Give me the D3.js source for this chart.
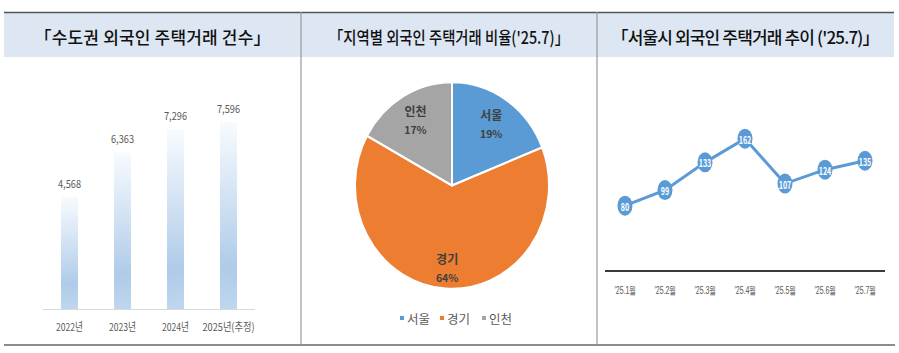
<!DOCTYPE html>
<html><head><meta charset="utf-8">
<script src="https://cdn.jsdelivr.net/npm/d3@7"></script>
<style>
html,body{margin:0;padding:0;background:#fff;}
svg{display:block;font-family:"Noto Sans CJK KR","Noto Sans",sans-serif;}
</style></head>
<body><svg id="c" width="899" height="353"></svg>
<script>
// ---- data ----
const titles = ["「수도권 외국인 주택거래 건수」", "「지역별 외국인 주택거래 비율('25.7)」", "「서울시 외국인 주택거래 추이 ('25.7)」"];
const barYears = ["2022년", "2023년", "2024년", "2025년(추정)"];
const barValues = [4568, 6363, 7296, 7596];
const pieRegions = ["서울", "경기", "인천"];
const pieShares = [19, 64, 17];
const pieColors = ["#5b9bd5", "#ed7d31", "#a5a5a5"];
const lineMonths = ["'25.1월", "'25.2월", "'25.3월", "'25.4월", "'25.5월", "'25.6월", "'25.7월"];
const lineValues = [80, 99, 133, 162, 107, 124, 135];

const svg = d3.select("#c");
const defs = svg.append("defs");
const grad = defs.append("linearGradient").attr("id","bg").attr("x1",0).attr("y1",0).attr("x2",0).attr("y2",1);
grad.append("stop").attr("offset","0%").attr("stop-color","#f8fbfe");
grad.append("stop").attr("offset","78%").attr("stop-color","#afcbe9");
grad.append("stop").attr("offset","100%").attr("stop-color","#bfd6ee");

// frame
const panels = [[4,301],[301,597],[597,894]];
const titleW = [236, 240, 268];
const titleAdj = ["spacing", "spacingAndGlyphs", "spacing"];
panels.forEach((p,i)=>{
  svg.append("rect").attr("x",p[0]).attr("y",13).attr("width",p[1]-p[0]).attr("height",44).attr("fill","#dde7f4");
  svg.append("text").attr("x",(p[0]+p[1])/2).attr("y",36).attr("text-anchor","middle")
    .attr("dominant-baseline","central").attr("font-size",17).attr("font-weight",500).attr("fill","#111")
    .attr("textLength",titleW[i]).attr("lengthAdjust",titleAdj[i])
    .text(titles[i]);
});
svg.append("line").attr("x1",4).attr("x2",894).attr("y1",12.5).attr("y2",12.5).attr("stroke","#555").attr("stroke-width",1.5);
svg.append("line").attr("x1",4).attr("x2",895).attr("y1",345).attr("y2",345).attr("stroke","#8c8c8c").attr("stroke-width",2);
[301,597].forEach(x=>svg.append("line").attr("x1",x).attr("x2",x).attr("y1",12).attr("y2",345).attr("stroke","#9a9a9a").attr("stroke-width",1.2));

// ---- bar chart ----
const bx = d3.scaleBand().domain(barYears).range([43,255]).paddingInner(0.68).paddingOuter(0.34);
const by = d3.scaleLinear().domain([0,8000]).range([309,309-197]);
svg.append("line").attr("x1",43).attr("x2",255).attr("y1",309.5).attr("y2",309.5).attr("stroke","#d9d9d9");
svg.selectAll(".bar").data(barValues).join("rect")
  .attr("x",(d,i)=>bx(barYears[i])).attr("width",bx.bandwidth())
  .attr("y",d=>by(d)).attr("height",d=>by(0)-by(d)).attr("fill","url(#bg)");
svg.selectAll(".bl").data(barValues).join("text")
  .attr("x",(d,i)=>bx(barYears[i])+bx.bandwidth()/2).attr("y",d=>by(d)-9)
  .attr("text-anchor","middle").attr("font-size",11).attr("fill","#595959")
  .attr("textLength",23).attr("lengthAdjust","spacingAndGlyphs")
  .text(d=>d3.format(",")(d));
svg.append("g").attr("transform","translate(0,309)")
  .call(d3.axisBottom(bx).tickSize(0).tickPadding(14))
  .call(g=>g.select(".domain").remove())
  .call(g=>g.selectAll("text").attr("font-size",11).attr("fill","#595959").attr("font-family","'Noto Sans CJK KR',sans-serif")
     .each(function(d){ d3.select(this).attr("textLength", d.length>6 ? 52 : 27).attr("lengthAdjust","spacingAndGlyphs"); }));

// ---- pie ----
const pie = d3.pie().sort(null).value(d=>d)(pieShares);
const R = 97;
const arc = d3.arc().innerRadius(0).outerRadius(R);
const pg = svg.append("g").attr("transform","translate(452,185.5) scale(1,1.065)");
pg.selectAll("path").data(pie).join("path").attr("d",arc)
  .attr("fill",(d,i)=>pieColors[i]).attr("stroke","#fff").attr("stroke-width",2);
const labR = [0.72, 0.8, 0.74];
const lab = svg.append("g").attr("transform","translate(452,185.5)");
pie.forEach((d,i)=>{
  const c = d3.arc().innerRadius(R*labR[i]).outerRadius(R*labR[i]).centroid(d);
  const t = lab.append("text").attr("x",c[0]).attr("y",c[1]*1.065).attr("text-anchor","middle")
    .attr("font-size",12).attr("font-weight",700).attr("fill","#404040");
  t.append("tspan").attr("x",c[0]).attr("dy",-4).text(pieRegions[i]);
  t.append("tspan").attr("x",c[0]).attr("dy",18).attr("font-size",10.5).text(pieShares[i]+"%");
});
const lg = svg.append("g");
const lx = [400,440,482];
pieRegions.forEach((r,i)=>{
  lg.append("rect").attr("x",lx[i]).attr("y",316).attr("width",4).attr("height",4).attr("fill",pieColors[i]);
  lg.append("text").attr("x",lx[i]+7).attr("y",318).attr("dominant-baseline","central")
    .attr("font-size",12.5).attr("fill","#595959").text(r);
});

// ---- line chart ----
const lxs = d3.scalePoint().domain(lineMonths).range([625,865]);
const lys = d3.scaleLinear().domain([0,200]).range([271,107.6]);
svg.append("line").attr("x1",605).attr("x2",885).attr("y1",271).attr("y2",271).attr("stroke","#3a3a3a").attr("stroke-width",2);
svg.append("path").datum(lineValues)
  .attr("d",d3.line().x((d,i)=>lxs(lineMonths[i])).y(d=>lys(d)))
  .attr("fill","none").attr("stroke","#5b9bd5").attr("stroke-width",3);
svg.selectAll(".mk").data(lineValues).join("ellipse")
  .attr("cx",(d,i)=>lxs(lineMonths[i])).attr("cy",d=>lys(d)).attr("rx",7.5).attr("ry",10).attr("fill","#5b9bd5");
svg.selectAll(".ml").data(lineValues).join("text")
  .attr("x",(d,i)=>lxs(lineMonths[i])).attr("y",d=>lys(d)+0.5).attr("text-anchor","middle").attr("dominant-baseline","central")
  .attr("font-size",10).attr("font-weight",700).attr("fill","#fff")
  .attr("textLength",d=>String(d).length*4.2).attr("lengthAdjust","spacingAndGlyphs")
  .text(d=>d);
svg.append("g").attr("transform","translate(0,271)")
  .call(d3.axisBottom(lxs).tickSize(0).tickPadding(15))
  .call(g=>g.select(".domain").remove())
  .call(g=>g.selectAll("text").attr("font-size",11).attr("fill","#595959")
     .attr("textLength",22).attr("lengthAdjust","spacingAndGlyphs"));
</script></body></html>
